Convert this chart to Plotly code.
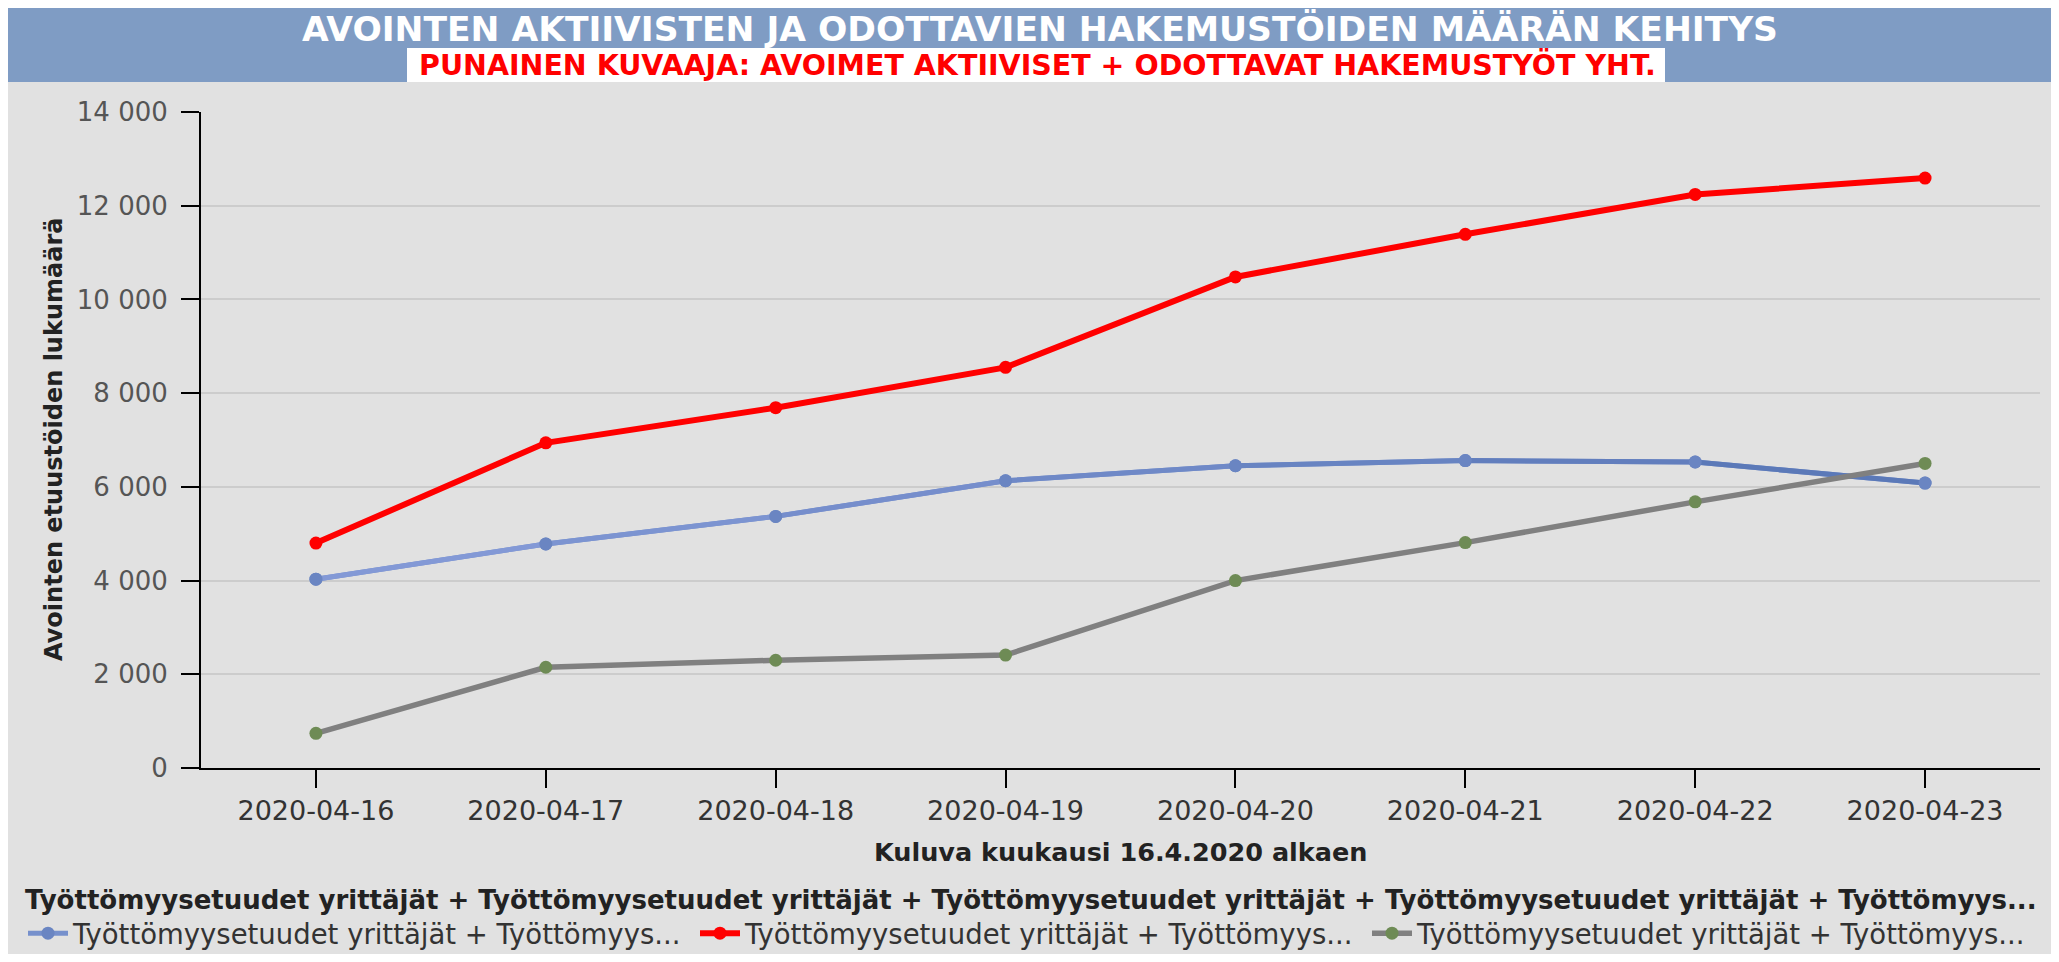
import plotly.graph_objects as go

# ---- data ----
dates = ["2020-04-16", "2020-04-17", "2020-04-18", "2020-04-19",
         "2020-04-20", "2020-04-21", "2020-04-22", "2020-04-23"]
blue_vals = [4030, 4780, 5370, 6130, 6450, 6560, 6530, 6080]
red_vals = [4800, 6940, 7690, 8550, 10480, 11390, 12240, 12590]
gray_vals = [740, 2150, 2300, 2410, 4000, 4810, 5680, 6500]
series_name = "Työttömyysetuudet yrittäjät + Työttömyys..."
legend_title = ("Työttömyysetuudet yrittäjät + Työttömyysetuudet yrittäjät + "
                "Työttömyysetuudet yrittäjät + Työttömyysetuudet yrittäjät + Työttömyys...")
title_text = "AVOINTEN AKTIIVISTEN JA ODOTTAVIEN HAKEMUSTÖIDEN MÄÄRÄN KEHITYS"
subtitle_text = "PUNAINEN KUVAAJA: AVOIMET AKTIIVISET + ODOTTAVAT HAKEMUSTYÖT YHT."
y_title = "Avointen etuustöiden lukumäärä"
x_title = "Kuluva kuukausi 16.4.2020 alkaen"
y_ticks = [0, 2000, 4000, 6000, 8000, 10000, 12000, 14000]

FONT = "DejaVu Sans"
W, H = 2043, 946
ML, MR, MT, MB = 193, 11, 104, 186
PW = W - ML - MR
PH = H - MT - MB


def px(xp):  # figure-pixel x -> paper
    return (xp - ML) / PW


def py(yp):  # figure-pixel y (from top) -> paper
    return (H - MB - yp) / PH


fig = go.Figure()

# blue series: legend entry + gradient-coloured segments on top
fig.add_trace(go.Scatter(
    x=dates, y=blue_vals, name=series_name, mode="lines+markers",
    line=dict(color="#7690cc", width=5),
    marker=dict(color="#6a85c2", size=13)))
c0, c1 = (134, 156, 216), (88, 118, 182)
nseg = len(dates) - 1
for i in range(nseg):
    t = (i + 0.5) / nseg
    col = "rgb({},{},{})".format(*[round(a + (b - a) * t) for a, b in zip(c0, c1)])
    fig.add_trace(go.Scatter(
        x=dates[i:i + 2], y=blue_vals[i:i + 2], mode="lines", showlegend=False,
        hoverinfo="skip", line=dict(color=col, width=5)))
fig.add_trace(go.Scatter(
    x=dates, y=blue_vals, mode="markers", showlegend=False,
    marker=dict(color="#6a85c2", size=13)))

fig.add_trace(go.Scatter(
    x=dates, y=red_vals, name=series_name, mode="lines+markers",
    line=dict(color="#ff0000", width=6),
    marker=dict(color="#ff0000", size=13)))
fig.add_trace(go.Scatter(
    x=dates, y=gray_vals, name=series_name, mode="lines+markers",
    line=dict(color="#808080", width=5.5),
    marker=dict(color="#6e8b55", size=13)))

shapes = [
    # title banner
    dict(type="rect", xref="paper", yref="paper", layer="below",
         x0=px(-1), x1=px(W + 1), y0=py(74), y1=py(-1),
         fillcolor="#7f9cc4", line=dict(width=0)),
    # white box behind subtitle
    dict(type="rect", xref="paper", yref="paper", layer="below",
         x0=px(399), x1=px(1657), y0=py(74), y1=py(40),
         fillcolor="#ffffff", line=dict(width=0)),
]

annotations = [
    dict(text=f"<b>{title_text}</b>", xref="paper", yref="paper",
         x=px(1032), y=py(21), xanchor="center", yanchor="middle",
         showarrow=False, font=dict(family=FONT, size=34.5, color="#ffffff")),
    dict(text=f"<b>{subtitle_text}</b>", xref="paper", yref="paper",
         x=px(1029), y=py(57), xanchor="center", yanchor="middle",
         showarrow=False, font=dict(family=FONT, size=28.5, color="#ff0000")),
    dict(text=f"<b>{y_title}</b>", xref="paper", yref="paper",
         x=px(46), y=0.5, xanchor="center", yanchor="middle", textangle=-90,
         showarrow=False, font=dict(family=FONT, size=24, color="#222222")),
    dict(text=f"<b>{x_title}</b>", xref="paper", yref="paper",
         x=0.5, y=py(844), xanchor="center", yanchor="middle",
         showarrow=False, font=dict(family=FONT, size=25.5, color="#222222")),
]

fig.update_layout(
    width=W, height=H,
    margin=dict(l=ML, r=MR, t=MT, b=MB, pad=0, autoexpand=False),
    paper_bgcolor="#e1e1e1", plot_bgcolor="#e1e1e1",
    separators=", ",
    font=dict(family=FONT, size=26, color="#333333"),
    shapes=shapes, annotations=annotations,
    showlegend=True,
    legend=dict(
        orientation="h", x=px(15), y=py(867), xanchor="left", yanchor="top",
        bgcolor="rgba(0,0,0,0)",
        title=dict(text=f"<b>{legend_title}</b>", side="top",
                   font=dict(family=FONT, size=26, color="#222222")),
        font=dict(family=FONT, size=27.5, color="#333333"),
        itemwidth=40, tracegroupgap=0,
        entrywidth=617, entrywidthmode="pixels",
    ),
    xaxis=dict(
        type="category", range=[-0.5, len(dates) - 0.5],
        showgrid=False, showline=True, linecolor="#000000", linewidth=2,
        ticks="outside", ticklen=18, tickwidth=2, tickcolor="#000000",
        tickfont=dict(family=FONT, size=27, color="#333333"),
        zeroline=False, fixedrange=True,
    ),
    yaxis=dict(
        range=[0, 14000], tickvals=y_ticks, tickformat=",d",
        showgrid=True, gridcolor="#cccccc", gridwidth=2,
        showline=True, linecolor="#000000", linewidth=2,
        ticks="outside", ticklen=18, tickwidth=2, tickcolor="#000000",
        ticklabelstandoff=8,
        tickfont=dict(family=FONT, size=26, color="#555555"),
        zeroline=False, fixedrange=True,
    ),
)

fig.write_html("out.html")
